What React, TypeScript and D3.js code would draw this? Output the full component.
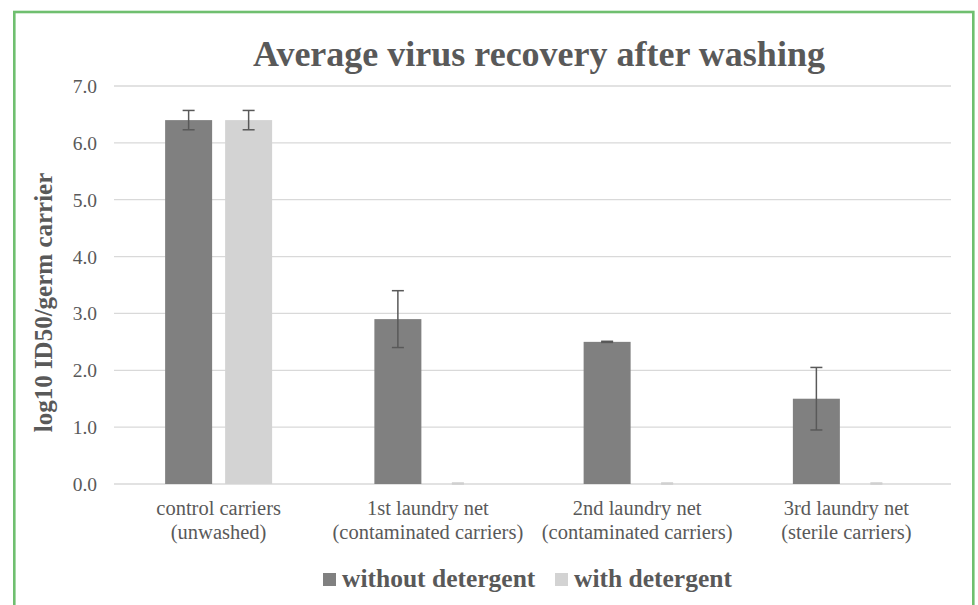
import React from "react";
import * as d3 from "d3";

const categories: string[][] = [
  ["control carriers", "(unwashed)"],
  ["1st laundry net", "(contaminated carriers)"],
  ["2nd laundry net", "(contaminated carriers)"],
  ["3rd laundry net", "(sterile carriers)"],
];
const seriesNames = ["without detergent", "with detergent"];
const withoutDetergent = [6.4, 2.9, 2.5, 1.5];
const withoutDetergentErr = [0.17, 0.5, 0.01, 0.55];
const withDetergent = [6.4, 0, 0, 0];
const withDetergentErr = [0.17, 0, 0, 0];
const yTicks = [0, 1, 2, 3, 4, 5, 6, 7];
const colors = ["#808080", "#d3d3d3"];

const W = 978;
const H = 605;
const plot = { left: 114, right: 951, top: 86, bottom: 484 };
const fontStyle = { fontFamily: '"Liberation Serif", serif' };
const TXT = "#595959";

export default function App() {
  const x = d3
    .scaleBand<number>()
    .domain(categories.map((_, i) => i))
    .range([plot.left, plot.right])
    .padding(0);
  const y = d3.scaleLinear().domain([0, 7]).range([plot.bottom, plot.top]);
  const barW = 47;
  const gap = 13;
  const series = [
    { vals: withoutDetergent, errs: withoutDetergentErr },
    { vals: withDetergent, errs: withDetergentErr },
  ];
  const barX = (ci: number, si: number) => {
    const c = (x(ci) as number) + x.bandwidth() / 2;
    return si === 0 ? c - gap / 2 - barW : c + gap / 2;
  };

  return (
    <svg
      width={W}
      height={H}
      style={{ position: "absolute", left: 0, top: 0, background: "#fff" }}
    >
      <rect x={0} y={0} width={W} height={H} fill="#fff" />
      {/* frame */}
      <rect x={14.3} y={12} width={959} height={700} fill="none" stroke="#6fbf6f" strokeWidth={2.6} />
      {/* title */}
      <text
        x={539}
        y={66}
        textAnchor="middle"
        fontSize={36}
        fontWeight="bold"
        fill={TXT}
        style={fontStyle}
      >
        Average virus recovery after washing
      </text>
      {/* gridlines */}
      {yTicks.map((t) => (
        <line
          key={t}
          x1={plot.left}
          x2={plot.right}
          y1={y(t)}
          y2={y(t)}
          stroke="#d9d9d9"
          strokeWidth={1.3}
        />
      ))}
      {/* y tick labels */}
      {yTicks.map((t) => (
        <text
          key={t}
          x={97}
          y={y(t) + 7}
          textAnchor="end"
          fontSize={19.5}
          fill={TXT}
          style={fontStyle}
        >
          {t.toFixed(1)}
        </text>
      ))}
      {/* y title */}
      <text
        transform={`translate(52,302.5) rotate(-90)`}
        textAnchor="middle"
        fontSize={25}
        fontWeight="bold"
        fill={TXT}
        style={fontStyle}
      >
        log10 ID50/germ carrier
      </text>
      {/* bars */}
      {series.map((s, si) =>
        s.vals.map((v, ci) => (
          <rect
            key={`b${si}-${ci}`}
            x={barX(ci, si)}
            y={y(v)}
            width={barW}
            height={Math.max(0, plot.bottom - y(v))}
            fill={colors[si]}
          />
        ))
      )}
      {/* error bars */}
      {series.map((s, si) =>
        s.vals.map((v, ci) => {
          const cx = barX(ci, si) + barW / 2;
          const e = s.errs[ci];
          const stroke = v > 0 ? "#595959" : "#cfcfcf";
          const y1 = y(v + e);
          const y2 = v - e < 0 ? y(0) - 1 : y(v - e);
          const yy1 = v > 0 ? y1 : y(0) - 1;
          return (
            <g key={`e${si}-${ci}`} stroke={stroke} strokeWidth={1.5}>
              <line x1={cx} x2={cx} y1={yy1} y2={y2} />
              <line x1={cx - 6} x2={cx + 6} y1={yy1} y2={yy1} />
              <line x1={cx - 6} x2={cx + 6} y1={y2} y2={y2} />
            </g>
          );
        })
      )}
      {/* x labels */}
      {categories.map((lines, ci) => {
        const cx = (x(ci) as number) + x.bandwidth() / 2;
        return lines.map((ln, li) => (
          <text
            key={`x${ci}-${li}`}
            x={cx}
            y={515 + li * 24}
            textAnchor="middle"
            fontSize={20.5}
            fill={TXT}
            style={fontStyle}
          >
            {ln}
          </text>
        ));
      })}
      {/* legend */}
      {seriesNames.map((name, si) => {
        const lx = si === 0 ? 323 : 555;
        return (
          <g key={name}>
            <rect x={lx} y={573} width={13} height={13} fill={colors[si]} />
            <text
              x={lx + 19}
              y={586.5}
              fontSize={25.5}
              fontWeight="bold"
              fill={TXT}
              style={fontStyle}
            >
              {name}
            </text>
          </g>
        );
      })}
    </svg>
  );
}
